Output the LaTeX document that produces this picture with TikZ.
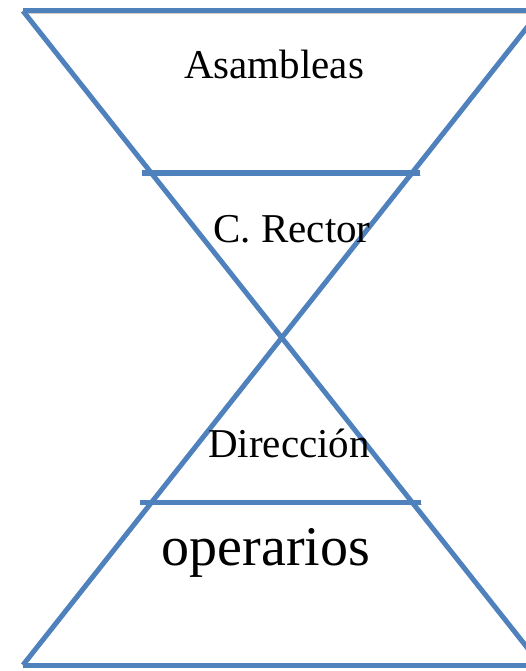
\documentclass[tikz,border=0pt]{standalone}
\usepackage{fontspec}
\usepackage{xcolor}
\setmainfont{Liberation Serif}
\definecolor{balkenblau}{RGB}{79,129,189}
\definecolor{schatten}{RGB}{140,110,90}
\tikzset{
  balken/.style={color=balkenblau, line width=5pt,
    preaction={draw=schatten, opacity=0.35, transform canvas={shift={(0.8pt,-2.2pt)}}}},
  stufe/.style={anchor=base, inner sep=0pt, font=\fontsize{41}{48}\selectfont},
}

\begin{document}
\begin{tikzpicture}[x=1pt,y=-1pt]
  \useasboundingbox (0,0) rectangle (526,671);
  \clip (0,0) rectangle (526,671);
  \begin{scope}
    % Eckpunkte der Sanduhr
    \coordinate (OL) at (23,11);
    \coordinate (OR) at (540,11);
    \coordinate (UL) at (23,665);
    \coordinate (UR) at (541,665);
    \draw [balken] (OL) -- (OR);
    \draw [balken] (UL) -- (UR);
    \draw [balken] (OL) -- (UR);
    \draw [balken] (UL) -- (OR);
    \draw [balken] (142,173) -- (420,173);
    \draw [balken] (140,502) -- (421,502);
    \node (asam) [stufe] at (274,79) {Asambleas};
    \node (rector) [stufe] at (292,242) {C. Rector};
    \node (dir) [stufe] at (289,457) {Dirección};
    \node (oper) [stufe, font=\fontsize{56}{64}\selectfont] at (266,565) {operarios};
  \end{scope}
\end{tikzpicture}
\end{document}
